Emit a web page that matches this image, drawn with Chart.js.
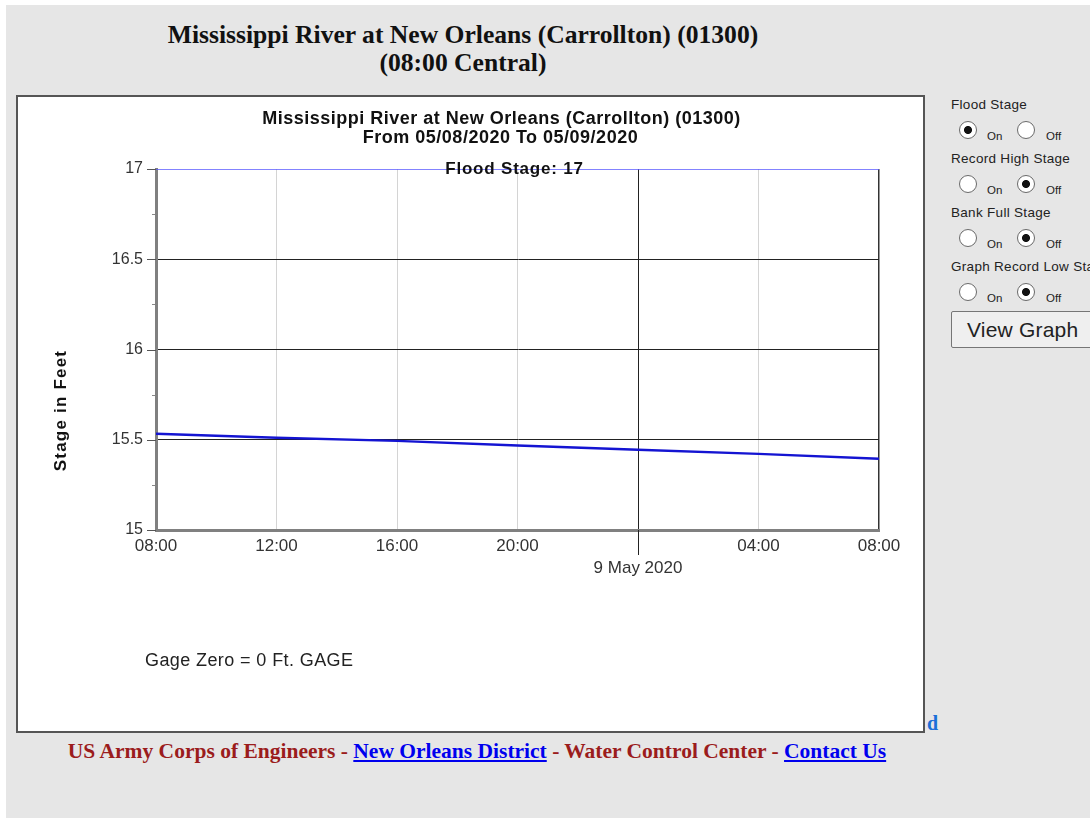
<!DOCTYPE html>
<html>
<head>
<meta charset="utf-8">
<script src="https://cdn.jsdelivr.net/npm/chart.js@4.4.0/dist/chart.umd.min.js"></script>
<style>
  html,body{margin:0;padding:0;background:#fff;width:1090px;height:818px;overflow:hidden;}
  #page{position:absolute;left:6px;top:5px;width:1084px;height:813px;background:#e6e6e6;}
  .hdr{position:absolute;left:0;width:926px;text-align:center;font-family:"Liberation Serif","Times New Roman",serif;font-weight:bold;font-size:25.6px;color:#111;}
  #box{position:absolute;left:16px;top:95px;width:909px;height:638px;border:2px solid #555;box-sizing:border-box;background:#fff;}
  #c{position:absolute;left:0;top:0;}
  #footer{position:absolute;left:0;top:739px;width:954px;text-align:center;font-family:"Liberation Serif","Times New Roman",serif;font-weight:bold;font-size:21.5px;color:#9b1c1c;}
  #footer a{color:#0000ee;text-decoration:underline;}
  #dlink{position:absolute;left:927px;top:712px;font-family:"Liberation Serif",serif;font-weight:bold;font-size:20px;color:#1a6fd8;}
  #panel{position:absolute;left:951px;top:97px;font-family:"Liberation Sans",Arial,sans-serif;color:#222;}
  .lbl{font-size:13.5px;letter-spacing:0.3px;height:16px;line-height:16px;white-space:nowrap;}
  .row{height:38px;font-size:11.5px;position:relative;}
  .row input{margin:0;width:18px;height:18px;position:absolute;top:8px;-webkit-appearance:none;appearance:none;border:1.5px solid #6a6a6a;border-radius:50%;background:#fff;box-sizing:border-box;}
  .row input:checked{background:radial-gradient(circle, #111 0 3.6px, #fff 4.4px);}
  .row span{position:absolute;top:17px;}
  #btn{position:absolute;left:951px;top:311px;width:150px;height:37px;box-sizing:border-box;border:1px solid #767676;background:#efefef;font-family:"Liberation Sans",Arial,sans-serif;font-size:21px;letter-spacing:0.2px;color:#222;padding:0 0 0 15px;text-align:left;border-radius:2px;}
</style>
</head>
<body>
<div id="page"></div>
<div class="hdr" style="top:20px;">Mississippi River at New Orleans (Carrollton) (01300)</div>
<div class="hdr" style="top:48px;">(08:00 Central)</div>
<div id="box"><canvas id="c" width="905" height="634"></canvas></div>
<div id="dlink">d</div>
<div id="footer">US Army Corps of Engineers - <a>New Orleans District</a> - Water Control Center - <a>Contact Us</a></div>
<div id="panel"></div>
<button id="btn">View Graph</button>
<script>
// ---- data ----
const hours = [0, 4, 8, 12, 16, 20, 24];               // hours after 05/08/2020 08:00
const stage = [15.533, 15.511, 15.494, 15.468, 15.445, 15.422, 15.395];
const floodStage = 17;
const xTickLabels = ['08:00', '12:00', '16:00', '20:00', ['', '9 May 2020'], '04:00', '08:00'];
const yTickLabels = ['15', '15.5', '16', '16.5', '17'];
const yTickValues = [15, 15.5, 16, 16.5, 17];
const chartTitle = ['Mississippi River at New Orleans (Carrollton) (01300)', 'From 05/08/2020 To 05/09/2020'];
const floodLabel = 'Flood Stage: 17';
const yTitle = 'Stage in Feet';
const gageNote = 'Gage Zero = 0 Ft. GAGE';
const radioGroups = [['Flood Stage', true], ['Record High Stage', false], ['Bank Full Stage', false], ['Graph Record Low Stage', false]];

// ---- side panel ----
(function(){
  const p = document.getElementById('panel');
  radioGroups.forEach((g, i) => {
    const l = document.createElement('div'); l.className = 'lbl'; l.textContent = g[0]; p.appendChild(l);
    const r = document.createElement('div'); r.className = 'row';
    r.innerHTML = '<input type="radio" name="g'+i+'" style="left:8px" '+(g[1]?'checked':'')+'><span style="left:36px">On</span>' +
                  '<input type="radio" name="g'+i+'" style="left:66px" '+(g[1]?'':'checked')+'><span style="left:95px">Off</span>';
    p.appendChild(r);
  });
})();

const overlay = {
  id: 'overlay',
  afterDraw(chart) {
    const ctx = chart.ctx, a = chart.chartArea;
    const cx = (a.left + a.right) / 2;
    ctx.save();
    ctx.fillStyle = '#111';
    ctx.textAlign = 'center';
    ctx.textBaseline = 'middle';
    ctx.font = 'bold 18px "Liberation Sans", Arial, sans-serif';
    ctx.letterSpacing = '0.5px';
    ctx.fillText(chartTitle[0], cx - 16, a.top - 50);
    ctx.fillText(chartTitle[1], cx - 17, a.top - 31);
    ctx.font = 'bold 17px "Liberation Sans", Arial, sans-serif';
    ctx.letterSpacing = '0.8px';
    ctx.fillText(floodLabel, cx - 3, a.top);
    // y title
    ctx.save();
    ctx.translate(a.left - 95, (a.top + a.bottom) / 2 + 61);
    ctx.rotate(-Math.PI / 2);
    ctx.font = 'bold 17px "Liberation Sans", Arial, sans-serif';
    ctx.letterSpacing = '1.2px';
    ctx.fillText(yTitle, 0, 0);
    ctx.restore();
    // gage note
    ctx.textAlign = 'left';
    ctx.fillStyle = '#222';
    ctx.font = '18px "Liberation Sans", Arial, sans-serif';
    ctx.letterSpacing = '0.4px';
    ctx.fillText(gageNote, a.left - 11, a.bottom + 131);
    ctx.letterSpacing = '0px';
    // minor y ticks
    const ys = chart.scales.y;
    ctx.strokeStyle = '#888';
    ctx.lineWidth = 1;
    for (let v = 15.25; v < 17; v += 0.5) {
      const y = Math.round(ys.getPixelForValue(v)) + 0.5;
      ctx.beginPath(); ctx.moveTo(a.left - 4, y); ctx.lineTo(a.left - 1, y); ctx.stroke();
    }
    // major y tick marks
    ctx.strokeStyle = '#555';
    yTickValues.forEach(v => {
      const y = Math.round(ys.getPixelForValue(v)) + 0.5;
      ctx.beginPath(); ctx.moveTo(a.left - 9, y); ctx.lineTo(a.left, y); ctx.stroke();
    });
    // midnight tick extension
    const xs = chart.scales.x;
    const xm = Math.round(xs.getPixelForValue(16)) + 0.5;
    ctx.strokeStyle = '#222';
    ctx.beginPath(); ctx.moveTo(xm, a.bottom); ctx.lineTo(xm, a.bottom + 25); ctx.stroke();
    ctx.restore();
  }
};

new Chart(document.getElementById('c'), {
  type: 'line',
  data: {
    datasets: [
      { data: hours.map((h, i) => ({x: h, y: stage[i]})), borderColor: '#1414d2', borderWidth: 2.4, pointRadius: 0, tension: 0, order: 1 },
      { data: [{x: hours[0], y: floodStage}, {x: hours[hours.length - 1], y: floodStage}], borderColor: '#5a5aff', borderWidth: 1.5, pointRadius: 0, order: 2 }
    ]
  },
  options: {
    responsive: false,
    devicePixelRatio: 1,
    animation: false,
    layout: { padding: { left: 0, top: 72, right: 44, bottom: 0 } },
    plugins: { legend: { display: false }, tooltip: { enabled: false }, title: { display: false } },
    scales: {
      x: {
        type: 'linear', min: 0, max: 24,
        afterBuildTicks: s => { s.ticks = hours.map(v => ({value: v})); },
        afterFit: s => { s.height = 201; },
        border: { color: '#808080', width: 3 },
        grid: {
          drawTicks: false,
          color: c => c.tick.value === 16 ? '#222' : (c.tick.value === 24 ? '#333' : (c.tick.value === 0 ? 'transparent' : '#d4d4d4')),
          lineWidth: c => c.tick.value === 24 ? 1.5 : 1
        },
        ticks: {
          padding: 5, maxRotation: 0, autoSkip: false,
          color: '#333', font: { family: '"Liberation Sans", Arial, sans-serif', size: 17, lineHeight: 1.3 },
          callback: (v, i) => xTickLabels[i]
        }
      },
      y: {
        min: 15, max: 17,
        afterBuildTicks: s => { s.ticks = yTickValues.map(v => ({value: v})); },
        afterFit: s => { s.width = 138; },
        border: { color: '#808080', width: 3 },
        grid: {
          drawTicks: false,
          color: c => (c.tick.value === 15 || c.tick.value === 17) ? 'transparent' : '#222',
          lineWidth: 1
        },
        ticks: {
          padding: 13, color: '#333', font: { family: '"Liberation Sans", Arial, sans-serif', size: 16 },
          callback: (v, i) => yTickLabels[i]
        }
      }
    }
  },
  plugins: [overlay]
});
</script>
</body>
</html>
